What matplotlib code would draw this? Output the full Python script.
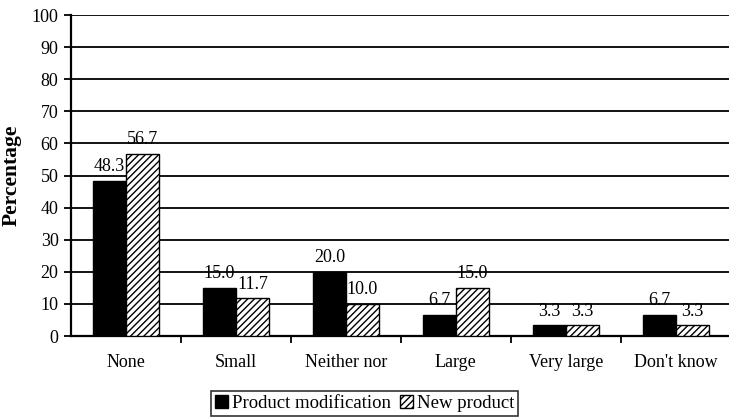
import numpy as np
import matplotlib
matplotlib.use("Agg")
import matplotlib.pyplot as plt
from matplotlib.patches import Patch

plt.rcParams['font.family'] = ['Liberation Serif', 'DejaVu Serif']
plt.rcParams['hatch.linewidth'] = 1.0

categories = ["None", "Small", "Neither nor", "Large", "Very large", "Don't know"]
modification = [48.3, 15.0, 20.0, 6.7, 3.3, 6.7]
new_product = [56.7, 11.7, 10.0, 15.0, 3.3, 3.3]
series_names = ["Product modification", "New product"]

fig = plt.figure(figsize=(7.29, 4.19), dpi=100)
ax = fig.add_axes([0.0974, 0.198, 0.905, 0.766])

x = np.arange(len(categories))
w = 0.3

b1 = ax.bar(x - w / 2, modification, w, color='black', edgecolor='black',
            linewidth=1, zorder=3)
b2 = ax.bar(x + w / 2, new_product, w, color='white', edgecolor='black',
            hatch='/////', linewidth=1, zorder=3)

for bars, vals in ((b1, modification), (b2, new_product)):
    for rect, v in zip(bars, vals):
        ax.annotate(f"{v:.1f}", (rect.get_x() + rect.get_width() / 2, v),
                    xytext=(0, 7), textcoords='offset points',
                    ha='center', va='baseline', fontsize=13)

ax.set_xlim(-0.5, len(categories) - 0.5)
ax.set_ylim(0, 100)
ax.set_yticks(np.arange(0, 101, 10))
ax.tick_params(axis='y', labelsize=13, length=5, width=1.3, direction='out',
               pad=4)

ax.set_xticks(x)
ax.set_xticklabels(categories, fontsize=13)
ax.set_xticks(np.arange(0.5, len(categories) - 0.5, 1), minor=True)
ax.tick_params(axis='x', which='major', length=0, pad=13)
ax.tick_params(axis='x', which='minor', length=5, width=1.3, direction='out')

ax.yaxis.grid(True, color='black', linewidth=1.3, zorder=0)
ax.set_axisbelow(True)
for side in ('top', 'right'):
    ax.spines[side].set_visible(False)
ax.spines['left'].set_linewidth(1.6)
ax.spines['bottom'].set_linewidth(1.6)

ax.set_ylabel("Percentage", fontsize=15.5, fontweight='bold', labelpad=7)

handles = [Patch(facecolor='black', edgecolor='black'),
           Patch(facecolor='white', edgecolor='black', hatch='/////')]
leg = fig.legend(handles, series_names, loc='upper center',
                 bbox_to_anchor=(0.5, 0.066), ncol=2, fontsize=13.5,
                 frameon=True, fancybox=False, handlelength=0.7,
                 handleheight=0.7, handletextpad=0.2, columnspacing=0.5,
                 borderpad=0.2, borderaxespad=0)
leg.get_frame().set_edgecolor('black')
leg.get_frame().set_linewidth(1.2)

fig.savefig("out.png", dpi=100)
